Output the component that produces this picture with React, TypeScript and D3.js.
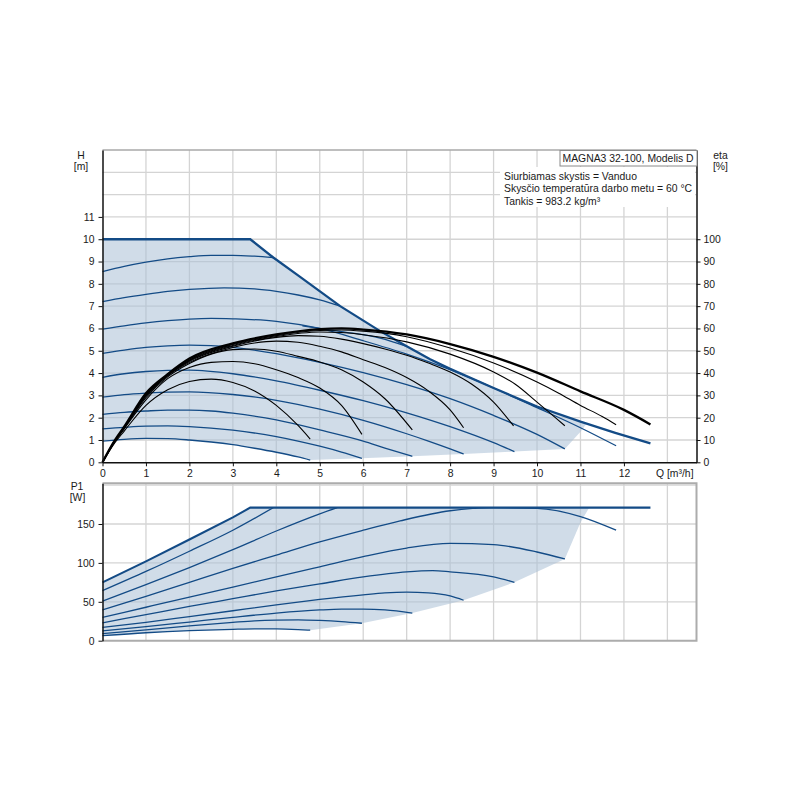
import * as d3 from 'd3'
import {useEffect, useRef} from 'react'

type Pt = [number, number]

const qTicks = [0, 1, 2, 3, 4, 5, 6, 7, 8, 9, 10, 11, 12]
const qGrid = [1, 2, 3, 4, 5, 6, 7, 8, 9, 10, 11, 12, 13]
const hTicks = [0, 1, 2, 3, 4, 5, 6, 7, 8, 9, 10, 11]
const hGrid = [1, 2, 3, 4, 5, 6, 7, 8, 9, 10, 11, 12, 13]
const etaTicks = [0, 10, 20, 30, 40, 50, 60, 70, 80, 90, 100]
const p1Ticks = [0, 50, 100, 150]
const p1Grid = [50, 100, 150, 200]

const modelName = 'MAGNA3 32-100, Modelis D'
const infoLines = ['Siurbiamas skystis = Vanduo', 'Skysčio temperatūra darbo metu = 60 °C', 'Tankis = 983.2 kg/m³']

// H [m] over Q [m³/h]
const headLimit: Pt[] = [[0, 10], [3.4, 10], [3.93, 9.18], [4.5, 8.38], [5.47, 7.0], [6.39, 5.88], [7, 5.2], [7.54, 4.62], [8, 4.19], [9, 3.33], [10, 2.5], [11, 1.82], [11.8, 1.32], [12.61, 0.85]]
const headS9: Pt[] = [[0, 8.55], [0.5, 8.78], [1, 8.97], [1.5, 9.12], [2, 9.22], [2.5, 9.28], [3, 9.28], [3.5, 9.24], [3.93, 9.18]]
const headS8: Pt[] = [[0, 7.2], [0.5, 7.38], [1, 7.53], [1.5, 7.66], [2, 7.75], [2.8, 7.82], [3.5, 7.77], [4, 7.66], [4.5, 7.5], [5, 7.28], [5.47, 7.0]]
const headS7: Pt[] = [[0, 5.97], [0.5, 6.12], [1, 6.25], [1.5, 6.35], [2, 6.42], [2.5, 6.45], [3, 6.43], [4, 6.32], [5, 6.0], [6, 5.45], [7, 4.85], [8, 4.15], [9, 3.33], [10, 2.45], [11, 1.55], [11.82, 0.74]]
const headS6: Pt[] = [[0, 4.88], [0.5, 5.03], [1, 5.15], [1.5, 5.22], [2, 5.25], [2.5, 5.23], [3, 5.15], [4, 4.87], [5, 4.48], [6, 4.02], [7, 3.48], [8, 2.85], [9, 2.1], [10, 1.25], [10.64, 0.6]]
const headS5: Pt[] = [[0, 3.81], [0.5, 3.97], [1, 4.07], [1.5, 4.12], [2, 4.13], [3, 3.97], [4, 3.65], [5, 3.23], [6, 2.76], [7, 2.22], [8, 1.6], [9, 0.88], [9.48, 0.48]]
const headS4: Pt[] = [[0, 2.92], [0.5, 3.03], [1, 3.1], [1.5, 3.15], [2, 3.16], [3, 3.04], [4, 2.78], [5, 2.38], [6, 1.88], [7, 1.28], [7.5, 0.95], [8, 0.6], [8.31, 0.37]]
const headS3: Pt[] = [[0, 2.15], [0.5, 2.24], [1, 2.3], [1.5, 2.34], [2, 2.34], [2.5, 2.3], [3, 2.2], [4, 1.9], [5, 1.45], [6, 0.95], [6.5, 0.64], [7.13, 0.27]]
const headS2: Pt[] = [[0, 1.5], [0.5, 1.57], [1, 1.62], [1.5, 1.63], [2, 1.6], [3, 1.44], [4, 1.15], [4.5, 0.95], [5, 0.72], [5.5, 0.46], [5.97, 0.18]]
const headS1: Pt[] = [[0, 0.95], [0.5, 1.03], [1, 1.07], [1.5, 1.06], [2, 1.0], [2.5, 0.91], [3, 0.79], [3.5, 0.63], [4, 0.45], [4.5, 0.24], [4.78, 0.1]]
const headAux: Pt[] = [[4.6, 6.12], [5.5, 5.86], [6.39, 5.57], [7.0, 5.2]]
const headShadeEdge: Pt[] = [[11.14, 1.74], [11.0, 1.37], [10.64, 0.6]]

// eta [%] over Q [m³/h]
const etaMax: Pt[] = [[0, 0], [0.25, 8.8], [0.5, 16], [1, 31], [1.5, 39.5], [2, 46.5], [3, 53.3], [4, 57.3], [5, 59.7], [5.5, 60], [6, 59.5], [7, 57.3], [8, 53], [9, 47.3], [10, 40.2], [11, 31.8], [12, 23.5], [12.61, 17]]
const etaS7: Pt[] = [[0, 0], [0.25, 8.7], [0.5, 15.8], [1, 30.6], [1.5, 39.3], [2, 45.9], [3, 52.8], [4, 56.8], [5, 59.1], [5.5, 59.3], [6, 58.8], [7, 56.3], [8, 51.2], [9, 44.5], [10, 36], [10.5, 31], [11, 25.5], [11.5, 20.5], [11.82, 16.8]]
const etaS6: Pt[] = [[0, 0], [0.25, 8.6], [0.5, 15.7], [1, 30.3], [1.5, 39.1], [2, 45.6], [3, 52.4], [4, 56.4], [5, 58.4], [5.5, 58.2], [6, 57.2], [7, 54], [8, 48.5], [9, 40.5], [9.5, 35], [10, 27], [10.64, 16.4]]
const etaS5: Pt[] = [[0, 0], [0.25, 8.6], [0.5, 15.6], [1, 30], [1.5, 39], [2, 45.3], [3, 52], [4, 56], [4.5, 56.8], [5, 56.5], [5.5, 55.2], [6, 53.2], [6.5, 50.8], [7, 48], [7.5, 44.5], [8, 40.5], [8.5, 35], [9, 27], [9.46, 16.3]]
const etaS4: Pt[] = [[0, 0], [0.25, 8.5], [0.5, 15.5], [1, 29.6], [1.5, 38.8], [2, 44.8], [3, 51.5], [3.5, 53.5], [4, 54.3], [4.5, 53.8], [5, 52], [5.5, 49.5], [6, 46], [6.5, 42.5], [7, 38], [7.5, 32], [8, 23.5], [8.31, 15.5]]
const etaS3: Pt[] = [[0, 0], [0.25, 8.4], [0.5, 15.3], [1, 29], [1.5, 38.3], [2, 44.3], [2.5, 48.5], [3, 50.5], [3.5, 50.8], [4, 49.8], [4.5, 47.5], [5, 45], [5.5, 41.5], [6, 36], [6.5, 28.5], [7.13, 14.5]]
const etaS2: Pt[] = [[0, 0], [0.25, 8.2], [0.5, 15], [1, 28], [1.5, 37.5], [2, 42.5], [2.5, 44.8], [3, 45.2], [3.5, 44.2], [4, 41.5], [4.5, 38], [5, 33.3], [5.5, 25.5], [5.97, 12.5]]
const etaS1: Pt[] = [[0, 0], [0.25, 7.8], [0.5, 14], [1, 25.5], [1.5, 32.5], [2, 36.2], [2.5, 37.3], [3, 35.8], [3.5, 32], [4, 25.5], [4.5, 16.5], [4.78, 10.4]]

// P1 [W] over Q [m³/h]
const powerMax: Pt[] = [[0, 75], [1, 102], [2, 130], [3, 158.5], [3.4, 171], [12.61, 171]]
const powerS9: Pt[] = [[0, 64.3], [1, 89], [2, 115], [3, 142], [3.93, 171]]
const powerS8: Pt[] = [[0, 51], [1, 72], [2, 94], [3, 117], [4, 141], [5, 163], [5.4, 171]]
const powerS7: Pt[] = [[0, 39.5], [1, 57], [2, 75], [3, 93], [4, 110], [5, 127], [6, 142], [6.85, 154], [8, 167], [9, 171], [10, 170], [11, 159.5], [11.82, 142]]
const powerS6: Pt[] = [[0, 30], [1, 43], [2, 56], [3, 69], [4, 82], [5, 95], [6, 108], [7, 119], [8, 125], [9, 123.5], [10, 114], [10.64, 105]]
const powerS5: Pt[] = [[0, 23], [1, 33.5], [2, 44], [3, 54], [4, 64], [5, 73], [6, 82], [7, 88.5], [7.6, 90], [8, 88.5], [9, 82], [9.48, 75]]
const powerS4: Pt[] = [[0, 17], [1, 23.5], [2, 31], [3, 38.5], [4, 46], [5, 53], [6, 59], [6.5, 61.5], [7, 62.5], [7.5, 61.5], [8, 57.5], [8.31, 52]]
const powerS3: Pt[] = [[0, 12.5], [1, 18], [2, 24], [3, 30], [4, 35.5], [5, 39.5], [5.5, 40.5], [6, 40.5], [6.5, 39.5], [7.13, 35.5]]
const powerS2: Pt[] = [[0, 9.2], [1, 14], [2, 19], [3, 23.5], [3.5, 25.5], [4, 26.5], [4.5, 26.8], [5, 26], [5.5, 24.5], [5.97, 22.4]]
const powerS1: Pt[] = [[0, 6.4], [1, 10.2], [2, 12.9], [3, 14.6], [3.5, 15.1], [4, 15.1], [4.5, 14.3], [4.78, 13.5]]
const powerShadeEdge: Pt[] = [[11.2, 171], [11.0, 152], [10.64, 105]]

const BLUE = '#134b86'
const FONT = '"Liberation Sans", Arial, sans-serif'
const FONT_SIZE = 10.4

export default function App() {
  const ref = useRef<SVGSVGElement>(null)

  useEffect(() => {
    const svg = d3.select(ref.current)
    svg.selectAll('*').remove()

    const x = d3.scaleLinear().domain([0, 13.67]).range([102.5, 696.5])
    const yH = d3.scaleLinear().domain([0, 14]).range([462.3, 150])
    const yEta = d3.scaleLinear().domain([0, 140]).range([462.3, 150])
    const yP = d3.scaleLinear().domain([0, 202.3]).range([640.7, 483.3])
    const [x0, x1] = x.range()

    const last = (c: Pt[]) => c[c.length - 1]
    const lineH = d3.line<Pt>().x(d => x(d[0])).y(d => yH(d[1])).curve(d3.curveMonotoneX)
    const lineEta = d3.line<Pt>().x(d => x(d[0])).y(d => yEta(d[1])).curve(d3.curveMonotoneX)
    const lineP = d3.line<Pt>().x(d => x(d[0])).y(d => yP(d[1])).curve(d3.curveMonotoneX)
    const polyH = d3.line<Pt>().x(d => x(d[0])).y(d => yH(d[1]))
    const polyP = d3.line<Pt>().x(d => x(d[0])).y(d => yP(d[1]))

    // grid
    const grid = svg.append('g').attr('stroke', '#d4d4d4').attr('stroke-width', 1.3)
    qGrid.forEach(q => {
      grid.append('line').attr('x1', x(q)).attr('x2', x(q)).attr('y1', yH(14)).attr('y2', yH(0))
      grid.append('line').attr('x1', x(q)).attr('x2', x(q)).attr('y1', yP(202.3)).attr('y2', yP(0))
    })
    hGrid.forEach(h => grid.append('line').attr('x1', x0).attr('x2', x1).attr('y1', yH(h)).attr('y2', yH(h)))
    p1Grid.forEach(p => grid.append('line').attr('x1', x0).attr('x2', x1).attr('y1', yP(p)).attr('y2', yP(p)))

    // shaded operating areas
    const headLower = [headS5, headS4, headS3, headS2].map(last)
    const headArea: Pt[] = [...headLimit.filter(d => d[0] <= 11), ...headShadeEdge, ...headLower, ...[...headS1].reverse()]
    svg.append('path').attr('d', polyH(headArea) + 'Z').attr('fill', '#a9c0d6').attr('fill-opacity', 0.55)
    const powerLower = [powerS5, powerS4, powerS3, powerS2].map(last)
    const powerArea: Pt[] = [...powerMax.filter(d => d[0] <= 11.2), ...powerShadeEdge, ...powerLower, ...[...powerS1].reverse()]
    svg.append('path').attr('d', polyP(powerArea) + 'Z').attr('fill', '#a9c0d6').attr('fill-opacity', 0.55)

    // speed curves
    const headCurves = [headS9, headS8, headS7, headS6, headS5, headS4, headS3, headS2, headS1, headAux]
    svg.append('g').selectAll('path').data(headCurves).enter().append('path')
      .attr('d', d => lineH(d)).attr('fill', 'none').attr('stroke', BLUE).attr('stroke-width', 1.3)
    svg.append('path').attr('d', polyH(headLimit)).attr('fill', 'none').attr('stroke', BLUE).attr('stroke-width', 2.3)

    const powerCurves = [powerS9, powerS8, powerS7, powerS6, powerS5, powerS4, powerS3, powerS2, powerS1]
    svg.append('g').selectAll('path').data(powerCurves).enter().append('path')
      .attr('d', d => lineP(d)).attr('fill', 'none').attr('stroke', BLUE).attr('stroke-width', 1.3)
    svg.append('path').attr('d', polyP(powerMax)).attr('fill', 'none').attr('stroke', BLUE).attr('stroke-width', 2.1)

    // efficiency curves
    const etaCurves = [etaS1, etaS2, etaS3, etaS4, etaS5, etaS6, etaS7]
    svg.append('g').selectAll('path').data(etaCurves).enter().append('path')
      .attr('d', d => lineEta(d)).attr('fill', 'none').attr('stroke', '#000').attr('stroke-width', 1.1)
    svg.append('path').attr('d', lineEta(etaMax)).attr('fill', 'none').attr('stroke', '#000').attr('stroke-width', 2.3)

    // frames
    svg.append('line').attr('x1', x0).attr('x2', x1).attr('y1', yH(14)).attr('y2', yH(14)).attr('stroke', '#a8a8a8').attr('stroke-width', 1.5)
    svg.append('path')
      .attr('d', `M${x0},${yP(202.3)}H${x1}V${yP(0)}H${x0}`)
      .attr('fill', 'none').attr('stroke', '#acacac').attr('stroke-width', 2)

    // axes
    const styleAxis = (g: d3.Selection<SVGGElement, unknown, null, undefined>) => {
      g.attr('font-family', FONT).attr('font-size', FONT_SIZE)
      g.selectAll('text').attr('fill', '#1a1a1a')
      g.selectAll('line').attr('stroke', '#111')
      g.select('.domain').attr('stroke', '#111').attr('stroke-width', 1.5)
    }
    svg.append('g').attr('transform', `translate(${x0},0)`)
      .call(d3.axisLeft(yH).tickValues(hTicks).tickSize(4).tickSizeOuter(0).tickPadding(4))
      .call(styleAxis)
    svg.append('g').attr('transform', `translate(0,${yH(0)})`)
      .call(d3.axisBottom(x).tickValues(qTicks).tickSize(4).tickSizeOuter(0).tickPadding(3))
      .call(styleAxis)
    svg.append('g').attr('transform', `translate(${x1},0)`)
      .call(d3.axisRight(yEta).tickValues(etaTicks).tickSize(4).tickSizeOuter(0).tickPadding(3))
      .call(styleAxis)
    svg.append('g').attr('transform', `translate(${x0},0)`)
      .call(d3.axisLeft(yP).tickValues(p1Ticks).tickSize(4).tickSizeOuter(0).tickPadding(4))
      .call(styleAxis)

    // titles
    const label = (tx: number, ty: number, s: string, anchor = 'middle') =>
      svg.append('text').attr('x', tx).attr('y', ty).attr('text-anchor', anchor)
        .attr('font-family', FONT).attr('font-size', FONT_SIZE).attr('fill', '#1a1a1a').text(s)
    label(81, 159, 'H')
    label(81, 169.5, '[m]')
    label(720.5, 159, 'eta')
    label(720.5, 169.5, '[%]')
    label(77, 490, 'P1')
    label(77.5, 500.5, '[W]')
    label(656, 476.5, 'Q [m³/h]', 'start')

    // info block
    svg.append('rect').attr('x', 500).attr('y', 167).attr('width', 195).attr('height', 40).attr('fill', '#fff')
    svg.append('rect').attr('x', 560).attr('y', 150.5).attr('width', 137).attr('height', 15.5)
      .attr('fill', '#fff').attr('stroke', '#8a8a8a').attr('stroke-width', 1)
    label(562.5, 162, modelName, 'start')
    infoLines.forEach((s, i) => label(504, 179.5 + i * 12.5, s, 'start'))
  }, [])

  return (
    <svg ref={ref} width={800} height={800} style={{position: 'absolute', left: 0, top: 0, background: '#fff'}} />
  )
}
